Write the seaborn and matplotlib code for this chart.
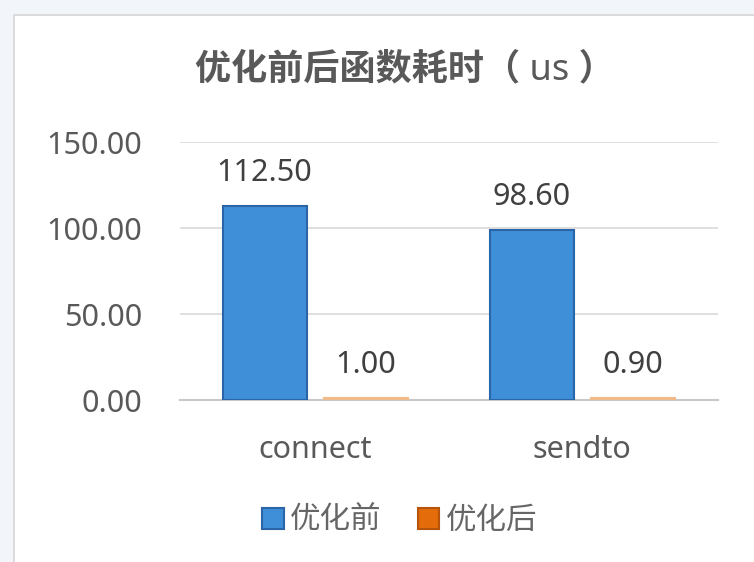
import seaborn as sns
import numpy as np
import pandas as pd
import matplotlib.pyplot as plt
from matplotlib.patches import Rectangle

functions = ['connect', 'sendto']
before_opt = [112.50, 98.60]
after_opt = [1.00, 0.90]
stages = ['优化前', '优化后']

df = pd.DataFrame({
    'func': functions * 2,
    'time': before_opt + after_opt,
    'stage': [stages[0]] * 2 + [stages[1]] * 2,
})

sns.set_style('white')
plt.rcParams['font.family'] = ['Noto Sans', 'Noto Sans CJK SC', 'DejaVu Sans']

fig = plt.figure(figsize=(7.54, 5.62), dpi=100, facecolor='#f2f6fa')
# white chart box like the screenshot
fig.patches.append(Rectangle((14 / 754, -0.01), 1.0, 1 - 15 / 562 + 0.01,
                             transform=fig.transFigure, facecolor='white',
                             edgecolor='#d6d6d6', linewidth=1.2, zorder=-5))

ax = fig.add_axes([180 / 754, 1 - 400 / 562, (718 - 180) / 754, (400 - 142) / 562])
ax.set_facecolor('none')

sns.barplot(data=df, x='func', y='time', hue='stage', ax=ax,
            palette=['#3f8fd8', '#e46c0a'], saturation=1, width=0.756, gap=0.167,
            linewidth=1.5, zorder=3)

edge_cols = ['#2a65a8', '#f2b98a']
for bars, ec in zip(ax.containers, edge_cols):
    for p in bars:
        p.set_edgecolor(ec)
    ax.bar_label(bars, fmt='%.2f', padding=13, fontsize=22, color='#404040')

ax.set_ylim(0, 150)
ax.set_yticks([0, 50, 100, 150])
ax.set_yticklabels([f'{v:.2f}' for v in [0, 50, 100, 150]])
ax.set_xlim(-0.506, 1.509)
ax.set_xlabel('')
ax.set_ylabel('')
ax.tick_params(axis='y', length=0, pad=27, labelsize=22, labelcolor='#595959')
ax.tick_params(axis='x', length=0, pad=25, labelsize=22, labelcolor='#595959')
ax.grid(True, axis='y', color='#d9d9d9', linewidth=1.2, zorder=0)
ax.set_axisbelow(True)
for side in ['left', 'top', 'right']:
    ax.spines[side].set_visible(False)
ax.spines['bottom'].set_color('#c8c8c8')
ax.spines['bottom'].set_linewidth(1.5)

handles, labels = ax.get_legend_handles_labels()
ax.get_legend().remove()
for h, ec in zip(handles, ['#2a65a8', '#b5540a']):
    h.set_edgecolor(ec)
fig.legend(handles, labels, loc='center', bbox_to_anchor=(0.53, 1 - 521 / 562),
           ncol=2, frameon=False, fontsize=22, handlelength=0.7, handleheight=0.7,
           handletextpad=0.2, columnspacing=1.2, labelcolor='#666666')

fig.text(405 / 754, 1 - 70 / 562, '优化前后函数耗时（ us ）', ha='center', va='center',
         fontsize=26, fontweight='bold', color='#595959')

fig.savefig('out.png', dpi=100, facecolor=fig.get_facecolor())
